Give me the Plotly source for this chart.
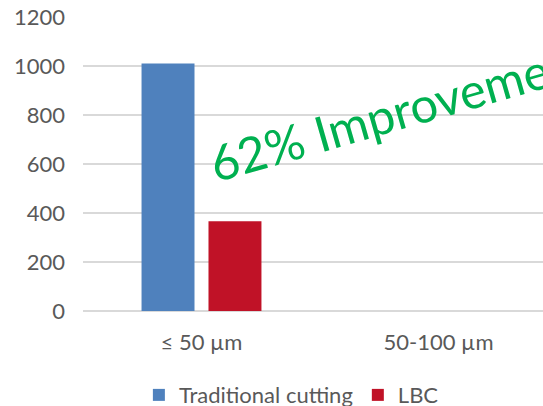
import plotly.graph_objects as go

# Particle count by size class
categories = ["≤ 50 µm", "50-100 µm"]
traditional = [1010, None]
lbc = [366, None]
y_ticks = [0, 200, 400, 600, 800, 1000, 1200]

BLUE = "#4F81BD"
RED = "#C01227"
GREEN = "#00B050"
GRID = "#D9D9D9"
TEXT = "#595959"
FONT = "Lato"

fig = go.Figure()
fig.add_trace(go.Bar(x=categories, y=traditional, name="Traditional cutting",
                     marker=dict(color=BLUE, line=dict(width=0))))
fig.add_trace(go.Bar(x=categories, y=lbc, name="LBC",
                     marker=dict(color=RED, line=dict(width=0))))

fig.add_annotation(
    text="62% Improvement", xref="paper", yref="paper",
    x=0.254, y=0.396, xanchor="left", yanchor="bottom",
    textangle=-16, showarrow=False,
    font=dict(family=FONT, size=49, color=GREEN),
)

fig.update_layout(
    width=543, height=406,
    margin=dict(l=83, r=0, t=17, b=95, autoexpand=False),
    paper_bgcolor="white", plot_bgcolor="white",
    barmode="group", bargap=0.435, bargroupgap=0.209,
    font=dict(family=FONT, size=22, color=TEXT),
    showlegend=True,
    legend=dict(orientation="h", x=0.453, xanchor="center",
                y=-0.286, yanchor="middle",
                font=dict(family=FONT, size=22, color=TEXT),
                itemwidth=30),
    xaxis=dict(type="category", range=[-0.5, 1.441], showgrid=False,
               showline=False, ticks="", ticklabelstandoff=16,
               automargin=False,
               tickfont=dict(family=FONT, size=22, color=TEXT)),
    yaxis=dict(range=[0, 1200], tickvals=y_ticks, showgrid=True,
               gridcolor=GRID, gridwidth=1.5, zeroline=True,
               zerolinecolor=GRID, zerolinewidth=1.5, showline=False,
               ticks="", ticklabelstandoff=17, automargin=False,
               tickfont=dict(family=FONT, size=22, color=TEXT)),
)

fig.write_html("out.html")
